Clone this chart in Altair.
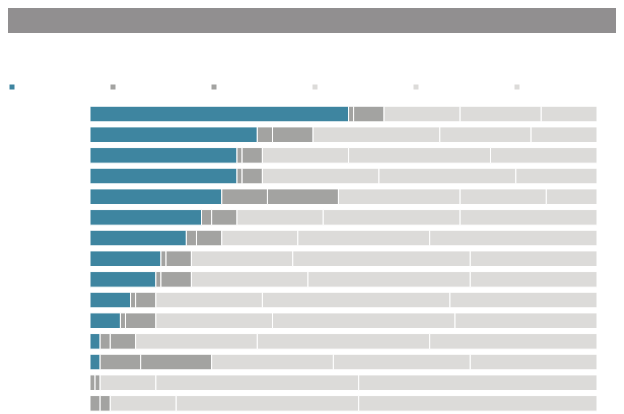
import altair as alt
import pandas as pd

rows = [f"r{i}" for i in range(1, 16)]
series = ["s1", "s2", "s3", "s4", "s5", "s6"]
colors = ["#3e85a0", "#a3a3a1", "#a3a3a1", "#dcdbd9", "#dcdbd9", "#dcdbd9"]

s1 = [51, 33, 29, 29, 26, 22, 19, 14, 13, 8, 6, 2, 2, 0, 0]
s2 = [1, 3, 1, 1, 9, 2, 2, 1, 1, 1, 1, 2, 8, 1, 2]
s3 = [6, 8, 4, 4, 14, 5, 5, 5, 6, 4, 6, 5, 14, 1, 2]
s4 = [15, 25, 17, 23, 24, 17, 15, 20, 23, 21, 23, 24, 24, 11, 13]
s5 = [16, 18, 28, 27, 17, 27, 26, 35, 32, 37, 36, 34, 27, 40, 36]
s6 = [11, 13, 21, 16, 10, 27, 33, 25, 25, 29, 28, 33, 25, 47, 47]

values = [s1, s2, s3, s4, s5, s6]
recs = []
for si, (name, vals) in enumerate(zip(series, values)):
    for ri, (r, v) in enumerate(zip(rows, vals)):
        recs.append({"row": r, "series": name, "order": si, "value": v})
df = pd.DataFrame(recs)

W, H = 608, 406

bars = alt.Chart(df).mark_bar(stroke="white", strokeWidth=1).encode(
    x=alt.X("value:Q", stack="zero",
            scale=alt.Scale(domain=[0, 100], range=[82, 589], nice=False),
            axis=None),
    y=alt.Y("row:N", sort=rows,
            scale=alt.Scale(range=[95.7, 405.7], paddingInner=0.245, paddingOuter=0.1225),
            axis=None),
    color=alt.Color("series:N", sort=series,
                    scale=alt.Scale(domain=series, range=colors),
                    legend=alt.Legend(orient="none", legendX=0, legendY=75,
                                      direction="horizontal", columns=6,
                                      symbolType="square", symbolSize=25,
                                      symbolStrokeWidth=0, labelExpr="''",
                                      labelOffset=0, columnPadding=93,
                                      padding=0,
                                      labelFontSize=8, title=None)),
    order=alt.Order("order:Q"),
)

header = alt.Chart(pd.DataFrame({"a": [0]})).mark_rect(color="#918f90").encode(
    x=alt.value(0), x2=alt.value(W), y=alt.value(0), y2=alt.value(25)
)

chart = alt.layer(header, bars).properties(
    width=W, height=H, padding=0, autosize=alt.AutoSizeParams(type="none")
).configure_view(stroke=None)

chart.save("out.html", embed_options={"renderer": "svg", "actions": False})
